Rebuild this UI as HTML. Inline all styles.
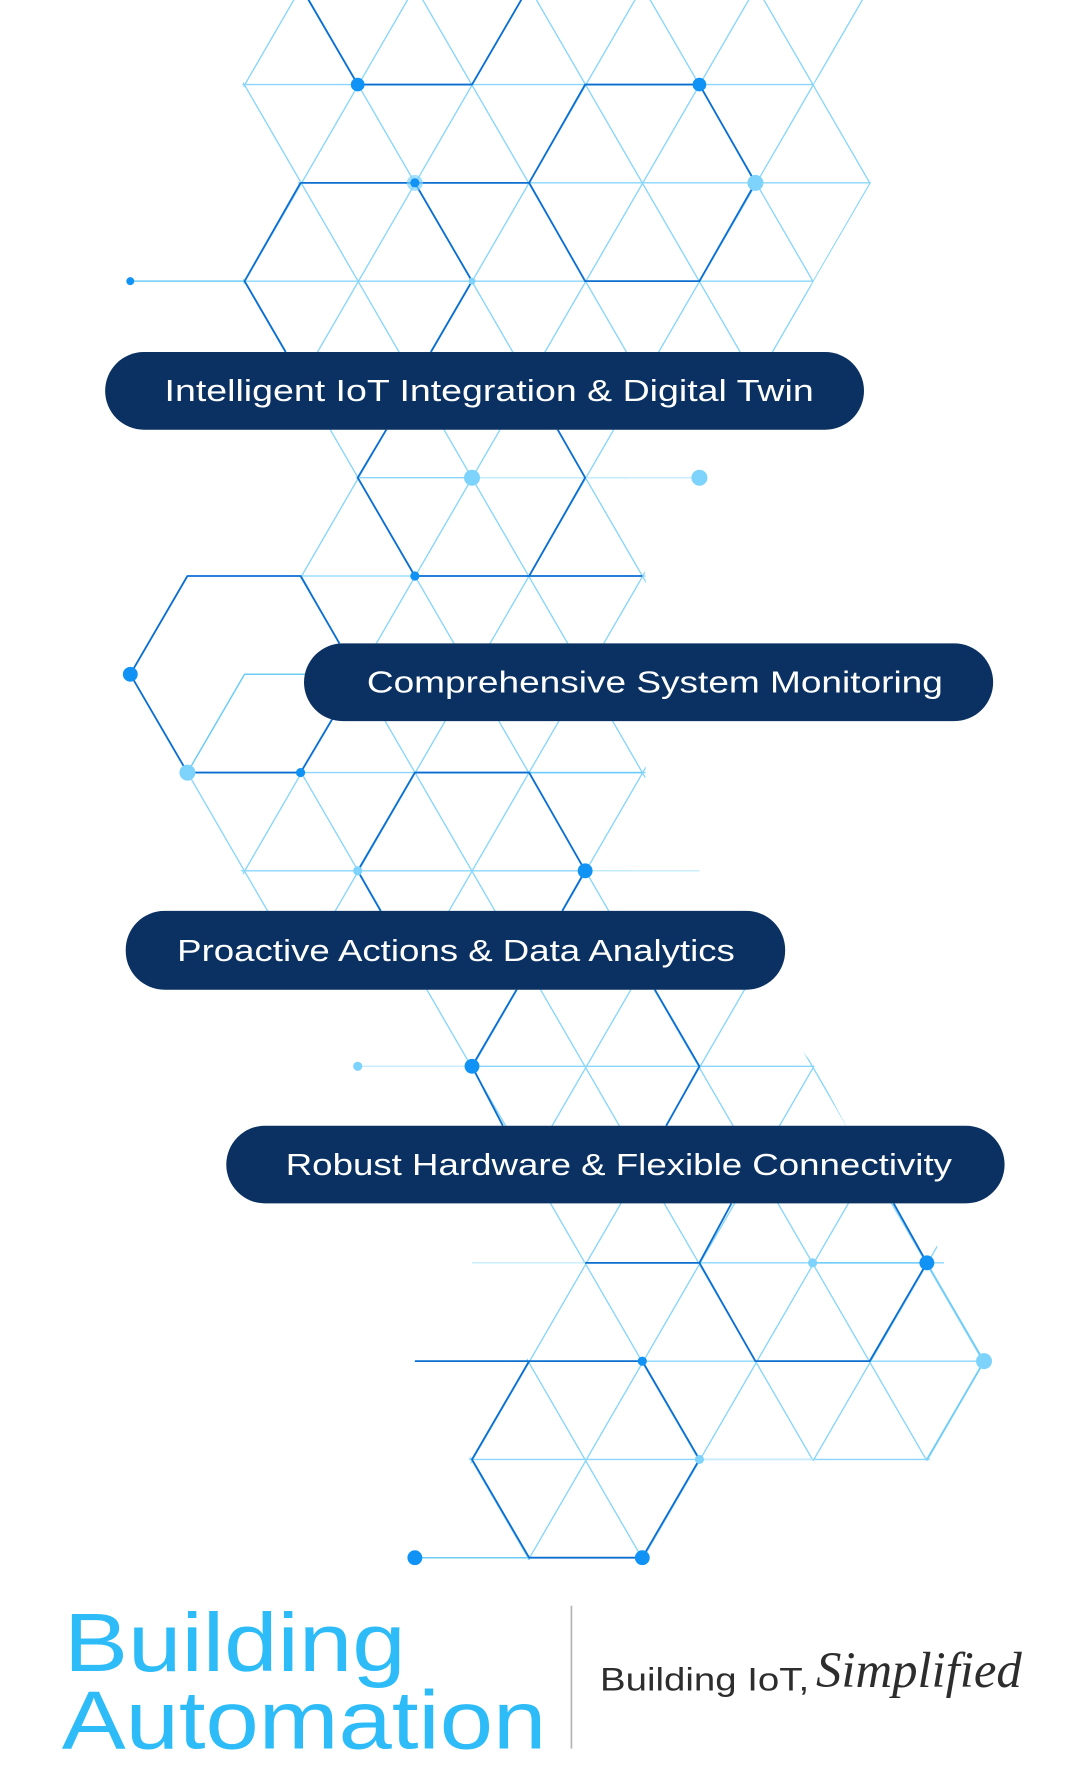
<!DOCTYPE html>
<html><head><meta charset="utf-8"><style>
html,body{margin:0;padding:0;background:#fff;width:1080px;height:1784px;overflow:hidden}
svg{display:block}
</style></head><body>
<svg width="1080" height="1784" viewBox="0 0 945 1561" preserveAspectRatio="none" xmlns="http://www.w3.org/2000/svg">
<defs>
<clipPath id="cl">
<polygon points="259,-14 768,-14 712,74 762,160 712,246 679,310 249,310 212,246 261,160 212,74"/>
<polygon points="285,372 542,372 565,504 565,678 546,800 234,800 211,762 161,677 264,677 300,614 300,560 263,504 312,418"/>
<polygon points="368,862 656,862 712,932 743,990 434,990 409,933"/>
<polygon points="468,1049 802,1049 863,1191 813,1278 614,1278 564,1365 461,1365 410,1277 460,1191 510,1105"/>
</clipPath>
</defs>
<g clip-path="url(#cl)" stroke="#8ad6fa" stroke-width="1.2" fill="none">
<path d="M-731.5,-12L85.5,1400M-632,-12L185,1400M-532.5,-12L284.5,1400M-433,-12L384,1400M-333.5,-12L483.5,1400M-234,-12L583,1400M-134.5,-12L682.5,1400M-35,-12L782,1400M64.5,-12L881.5,1400M164,-12L981,1400M263.5,-12L1080.5,1400M363,-12L1180,1400M462.5,-12L1279.5,1400M562,-12L1379,1400M661.5,-12L1478.5,1400M761,-12L1578,1400M860.5,-12L1677.5,1400"/>
<path d="M264,-12L-553,1400M363.5,-12L-453.5,1400M463,-12L-354,1400M562.5,-12L-254.5,1400M662,-12L-155,1400M761.5,-12L-55.5,1400M861,-12L44,1400M960.5,-12L143.5,1400M1060,-12L243,1400M1159.5,-12L342.5,1400M1259,-12L442,1400M1358.5,-12L541.5,1400M1458,-12L641,1400M1557.5,-12L740.5,1400M1657,-12L840,1400M1756.5,-12L939.5,1400M1856,-12L1039,1400"/>
<path d="M0,74H945M0,160H945M0,246H945M0,418H945M0,504H945M0,590H945M0,676H945M0,762H945M0,933H945M0,1105H945M0,1191H945M0,1277H945"/>
</g>
<g stroke="#c6ecfd" stroke-width="1.2" fill="none">
<path d="M413,418H612M512,762H612M313,933H413M413,1105H512M612,1277H711"/>
</g>
<g stroke="#6cccf8" stroke-width="1.3" fill="none">
<path d="M114,246H214M363,1363H463M463,676H562M214,590H270M214,590L164,676M711,1105H811M811,1105L861,1191L811,1277"/>
</g>
<g stroke="#0b6fd2" stroke-width="1.6" fill="none" stroke-linejoin="round">
<path d="M263,-12L313,74H413L463,-12"/>
<path d="M512,74H612L661,160L612,246H512L463,160Z"/>
<path d="M263,160H463M263,160L214,246L250,308M363,160L413,246L377,308"/>
<path d="M338,376L313,418L363,504H562M488,376L512,418L463,504"/>
<path d="M297,563L263,504H164L114,590L164,676H263L292,627"/>
<path d="M333,797L313,762L363,676H463L512,762L492,797"/>
<path d="M452,866L413,933L440,985M573,866L612,933L583,985"/>
<path d="M640,1053L612,1105H512M612,1105L661,1191H761L811,1105L782,1053"/>
<path d="M363,1191H562L612,1277L562,1363H463L413,1277L463,1191"/>
</g>
<g fill="#1192f5">
<circle cx="313" cy="74" r="6"/><circle cx="612" cy="74" r="6"/><circle cx="114" cy="246" r="3.5"/>
<circle cx="363" cy="504" r="4"/><circle cx="114" cy="590" r="6.5"/><circle cx="263" cy="676" r="4"/>
<circle cx="512" cy="762" r="6.5"/><circle cx="413" cy="933" r="6.5"/><circle cx="811" cy="1105" r="6.5"/>
<circle cx="562" cy="1191" r="4"/><circle cx="363" cy="1363" r="6.5"/><circle cx="562" cy="1363" r="6.5"/>
</g>
<g fill="#7dd3fb">
<circle cx="363" cy="160" r="7" opacity=".7"/><circle cx="661" cy="160" r="7"/><circle cx="413" cy="246" r="3"/>
<circle cx="413" cy="418" r="7"/><circle cx="612" cy="418" r="7"/><circle cx="164" cy="676" r="7"/>
<circle cx="313" cy="762" r="4"/><circle cx="313" cy="933" r="4"/><circle cx="711" cy="1105" r="4"/>
<circle cx="861" cy="1191" r="7"/><circle cx="612" cy="1277" r="4"/>
</g>
<circle cx="363" cy="160" r="4" fill="#1192f5"/>
<g fill="#0a3161">
<rect x="92" y="308" width="664" height="68" rx="34"/>
<rect x="266" y="563" width="603" height="68" rx="34"/>
<rect x="110" y="797" width="577" height="69" rx="34"/>
<rect x="198" y="985" width="681" height="68" rx="34"/>
</g>
<g fill="#ffffff" font-family="Liberation Sans, sans-serif" font-size="27">
<text x="144" y="351" textLength="568" lengthAdjust="spacingAndGlyphs">Intelligent IoT Integration &amp; Digital Twin</text>
<text x="321" y="606" textLength="504" lengthAdjust="spacingAndGlyphs">Comprehensive System Monitoring</text>
<text x="155" y="841" textLength="488" lengthAdjust="spacingAndGlyphs">Proactive Actions &amp; Data Analytics</text>
<text x="250" y="1028" textLength="583" lengthAdjust="spacingAndGlyphs">Robust Hardware &amp; Flexible Connectivity</text>
</g>
<g fill="#2ebcf8" font-family="Liberation Sans, sans-serif" font-size="72">
<text x="56" y="1462" textLength="299" lengthAdjust="spacingAndGlyphs">Building</text>
<text x="54" y="1530" textLength="424" lengthAdjust="spacingAndGlyphs">Automation</text>
</g>
<line x1="500" y1="1405" x2="500" y2="1530" stroke="#b5b5b5" stroke-width="1.5"/>
<text x="525" y="1479" fill="#2d2d2d" font-family="Liberation Sans, sans-serif" font-size="28" textLength="183" lengthAdjust="spacingAndGlyphs">Building IoT,</text>
<text x="714" y="1476" fill="#2d2d2d" font-family="Liberation Serif, serif" font-style="italic" font-size="44" textLength="180" lengthAdjust="spacingAndGlyphs">Simplified</text>
</svg>
</body></html>
